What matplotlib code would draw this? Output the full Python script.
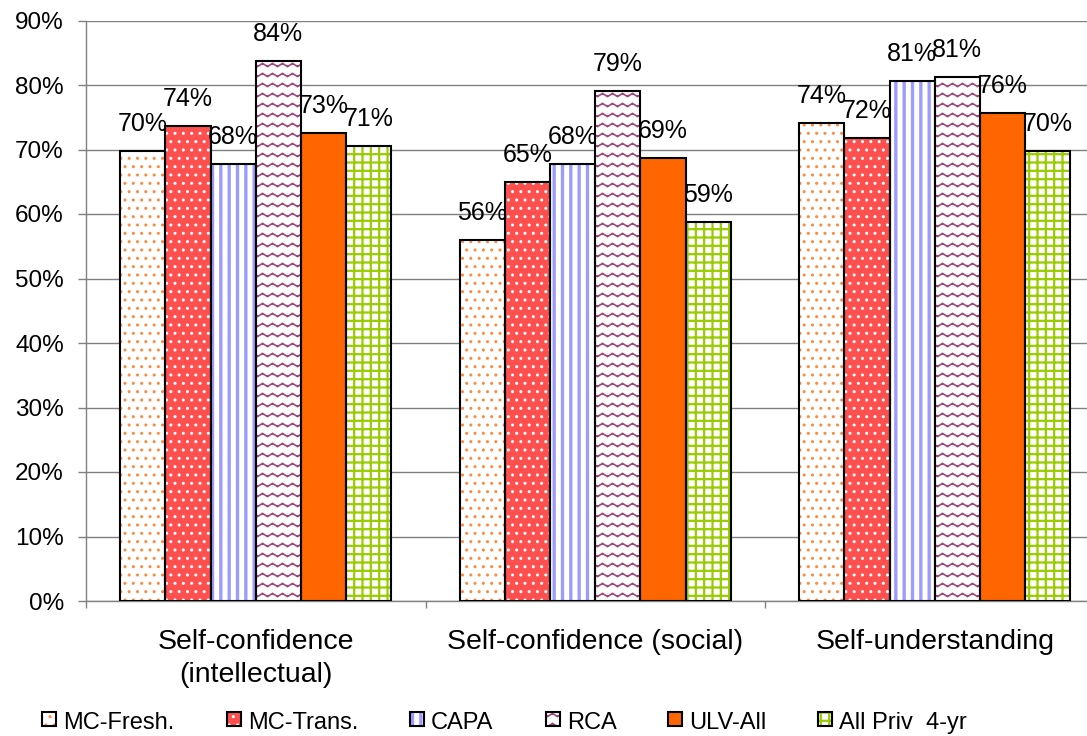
import warnings
import numpy as np
import matplotlib
matplotlib.use('Agg')
import matplotlib.pyplot as plt
from matplotlib import hatch as mhatch
from matplotlib.path import Path
from matplotlib.patches import Rectangle

warnings.filterwarnings('ignore')

# data
categories = ['Self-confidence\n(intellectual)', 'Self-confidence (social)', 'Self-understanding']
series = ['MC-Fresh.', 'MC-Trans.', 'CAPA', 'RCA', 'ULV-All', 'All Priv  4-yr']
mc_fresh = [69.8, 56.0, 74.1]
mc_trans = [73.6, 65.0, 71.8]
capa = [67.7, 67.7, 80.6]
rca = [83.7, 79.1, 81.2]
ulv_all = [72.6, 68.7, 75.6]
all_priv = [70.6, 58.8, 69.7]
values = [mc_fresh, mc_trans, capa, rca, ulv_all, all_priv]
yticks = [0, 10, 20, 30, 40, 50, 60, 70, 80, 90]


class WaveHatch(mhatch.HatchPatternBase):
    """horizontal wavy lines, used with '~' in the hatch string"""

    def __init__(self, hatch, density):
        self.num_lines = hatch.count('~') * 5
        self.periods = 10
        self.pts = self.periods * 4 + 1
        self.num_vertices = self.num_lines * self.pts

    def set_vertices_and_codes(self, vertices, codes):
        xs = np.linspace(0, 1, self.pts)
        wave = 0.016 * np.sin(2 * np.pi * self.periods * xs)
        for i in range(self.num_lines):
            y0 = (i + 0.5) / self.num_lines
            sl = slice(i * self.pts, (i + 1) * self.pts)
            vertices[sl, 0] = xs
            vertices[sl, 1] = y0 + wave
            codes[sl] = Path.LINETO
            codes[i * self.pts] = Path.MOVETO


mhatch._hatch_types.append(WaveHatch)

# (face, hatch, hatch colour, hatch width)
styles = [
    ('white', '..', '#FF8A3D', 1.0),
    ('#FF4F4F', '..', 'white', 1.0),
    ('white', '||', '#9C9CFF', 2.4),
    ('white', '~~', '#A3467A', 1.2),
    ('#FF6600', None, None, 1.0),
    ('white', '++', '#99CC00', 1.6),
]

plt.rcParams['font.family'] = ['Liberation Sans', 'DejaVu Sans']

W, H = 1087, 736
fig = plt.figure(figsize=(W / 100, H / 100), dpi=100)
ax = fig.add_axes([86 / W, 135 / H, 1018.5 / W, 580.5 / H])

x = np.arange(len(categories)) + 0.5
width = 0.133


def styled_patch(p, face, hatch, hcolor, hlw):
    p.set_facecolor(face)
    if hatch:
        p.set_hatch(hatch)
        p.set_edgecolor(hcolor)
        if hasattr(p, 'set_hatch_linewidth'):
            p.set_hatch_linewidth(hlw)
    p.set_linewidth(0)


for j, (name, vals) in enumerate(zip(series, values)):
    face, hatch, hcolor, hlw = styles[j]
    pos = x + (j - 2.5) * width
    bars = ax.bar(pos, vals, width, zorder=2)
    for b in bars:
        styled_patch(b, face, hatch, hcolor, hlw)
    ax.bar(pos, vals, width, fill=False, edgecolor='black', linewidth=1.5, zorder=3)
    for px, v in zip(pos, vals):
        ax.annotate(f'{v:.0f}%', (px, v), xytext=(0, 14.4), textcoords='offset points',
                    ha='center', va='baseline', fontsize=18, zorder=5)

ax.set_xlim(0, 3)
ax.set_ylim(0, 90)
ax.set_yticks(yticks)
ax.set_yticklabels([f'{t}%' for t in yticks])
ax.set_xticks([0, 1, 2, 3])
ax.set_xticklabels([])
ax.set_xticks(x, minor=True)
ax.set_xticklabels(categories, minor=True, fontsize=20.5, linespacing=1.38)
ax.tick_params(axis='x', which='major', length=5, color='#808080', width=1)
ax.tick_params(axis='x', which='minor', length=0, pad=20)
ax.tick_params(axis='y', length=6, color='#808080', width=1, pad=10, labelsize=17.5)

ax.grid(axis='y', color='#808080', linewidth=1)
ax.set_axisbelow(True)
for s in ['top', 'right']:
    ax.spines[s].set_visible(False)
for s in ['left', 'bottom']:
    ax.spines[s].set_color('#808080')
    ax.spines[s].set_linewidth(1)

# legend along the bottom
sq_left = [42, 227, 410, 546, 668, 818]
for j, name in enumerate(series):
    face, hatch, hcolor, hlw = styles[j]
    r = Rectangle((sq_left[j] / W, 10 / H), 14 / W, 14 / H, transform=fig.transFigure)
    styled_patch(r, face, hatch, hcolor, hlw)
    fig.patches.append(r)
    fig.patches.append(Rectangle((sq_left[j] / W, 10 / H), 14 / W, 14 / H,
                                 transform=fig.transFigure, fill=False,
                                 edgecolor='black', linewidth=1.5))
    fig.text((sq_left[j] + 21) / W, 7 / H, name, fontsize=17, va='baseline')

fig.savefig('out.png', dpi=100)
